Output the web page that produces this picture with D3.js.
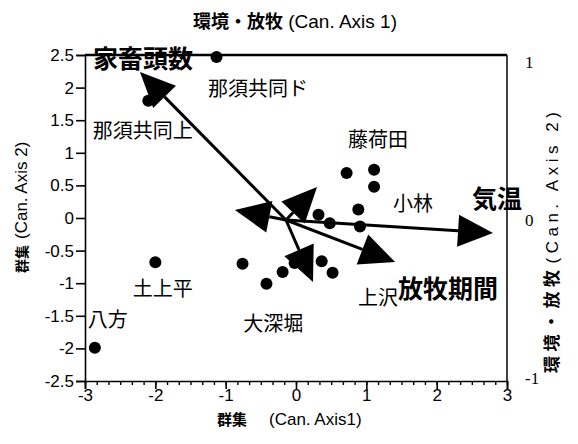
<!DOCTYPE html>
<html><head><meta charset="utf-8">
<script src="https://cdn.jsdelivr.net/npm/d3@7"></script>
<style>
body{margin:0;background:#fff;}
svg text{fill:#000;}
</style></head><body>
<svg id="chart" width="578" height="444"></svg>
<script>
// Site scores on the community canonical axes (群集 Can. Axis 1 / 2)
const siteX = [-1.13, -2.10, -2.86, -2.00, -0.76, -0.42, -0.19, -0.02, 0.365, 0.52, 0.32, 0.48, 0.91, 0.886, 0.72, 1.11, 1.11];
const siteY = [2.47, 1.80, -1.99, -0.68, -0.70, -1.01, -0.83, -0.69, -0.665, -0.84, 0.05, -0.08, -0.13, 0.13, 0.69, 0.74, 0.48];

// Site names and the anchor (left edge, baseline) of each name, in site units
const siteNames = ["那須共同ド", "那須共同上", "藤荷田", "小林", "上沢", "大深堀", "土上平", "八方"];
const siteNameX = [-1.25, -2.89, 0.74, 1.38, 0.88, -0.75, -2.32, -2.96];
const siteNameY = [1.87, 1.23, 1.09, 0.10, -1.33, -1.73, -1.19, -1.67];

// Environment / grazing vectors on the 環境・放牧 axes (-1..1)
const envNames = ["家畜頭数", "気温", "放牧期間"];
const envX = [-0.692, 0.981, 0.517, -0.242, 0.147, 0.128];
const envY = [0.937, -0.082, -0.266, 0.063, 0.209, -0.392];
const envLabelX = [-0.915, 0.882, 0.531];
const envLabelY = [0.962, 0.076, -0.494];

// Tick values
const xTicks = [-3, -2, -1, 0, 1, 2, 3];
const yTicks = [-2.5, -2, -1.5, -1, -0.5, 0, 0.5, 1, 1.5, 2, 2.5];
const envTicks = [-1, 0, 1];

const svg = d3.select("#chart");
const sans = "'Liberation Sans', Arial, sans-serif";
const jp = "'Noto Sans CJK JP', sans-serif";

const x = d3.scaleLinear().domain([-3, 3]).range([85, 507]);
const y = d3.scaleLinear().domain([-2.5, 2.5]).range([381, 55]);
const ex = d3.scaleLinear().domain([-1, 1]).range([75, 497]);
const ey = d3.scaleLinear().domain([-1, 1]).range([378, 62]);

// frame: heavy top edge, plain right edge
svg.append("line").attr("x1", x(-3)).attr("x2", x(3)).attr("y1", y(2.5)).attr("y2", y(2.5))
  .attr("stroke", "#000").attr("stroke-width", 2.5);
svg.append("line").attr("x1", x(3)).attr("x2", x(3)).attr("y1", y(2.5)).attr("y2", y(-2.5))
  .attr("stroke", "#000").attr("stroke-width", 1.5);

// left axis
const gy = svg.append("g").attr("transform", `translate(${x(-3)},0)`)
  .call(d3.axisLeft(y).tickValues(yTicks).tickSize(9).tickPadding(2).tickFormat(d => String(d)));
gy.selectAll("text").attr("font-family", sans).attr("font-size", 17);
gy.selectAll("line,path").attr("stroke", "#000").attr("stroke-width", 1.6);

// bottom axis, minor ticks then major
const minor = d3.range(-3, 3.0001, 1 / 6);
const gxm = svg.append("g").attr("transform", `translate(0,${y(-2.5)})`)
  .call(d3.axisBottom(x).tickValues(minor).tickSize(4).tickFormat(""));
gxm.select(".domain").remove();
gxm.selectAll("line").attr("stroke", "#000").attr("stroke-width", 1.4);
const gx = svg.append("g").attr("transform", `translate(0,${y(-2.5)})`)
  .call(d3.axisBottom(x).tickValues(xTicks).tickSize(8).tickPadding(0).tickFormat(d => String(d)));
gx.selectAll("text").attr("font-family", sans).attr("font-size", 17);
gx.selectAll("line,path").attr("stroke", "#000").attr("stroke-width", 1.6);

// right-hand labels of the environment scale
const gr = svg.append("g").attr("transform", "translate(524,0)")
  .call(d3.axisRight(ey).tickValues(envTicks).tickSize(0).tickPadding(1).tickFormat(d => String(d)));
gr.select(".domain").remove();
gr.selectAll("text").attr("font-family", "'Liberation Serif', serif").attr("font-size", 17);

// site points
svg.append("g").selectAll("circle").data(siteX).join("circle")
  .attr("cx", (d, i) => x(d)).attr("cy", (d, i) => y(siteY[i])).attr("r", 6).attr("fill", "#000");

// vectors: shaft to the base of the head, then a filled head
const ox = ex(0), oy = ey(0);
const HL = 35, HW = 16;
const ag = svg.append("g");
envX.forEach((vx, i) => {
  const tx = ex(vx), ty = ey(envY[i]);
  const dx = tx - ox, dy = ty - oy, len = Math.hypot(dx, dy);
  const ux = dx / len, uy = dy / len;
  const bx = tx - ux * HL, by = ty - uy * HL;
  ag.append("line").attr("x1", ox).attr("y1", oy).attr("x2", bx).attr("y2", by)
    .attr("stroke", "#000").attr("stroke-width", 3);
  ag.append("path")
    .attr("d", d3.line()([[tx, ty], [bx - uy * HW, by + ux * HW], [bx + uy * HW, by - ux * HW]]) + "Z")
    .attr("fill", "#000");
});

// site names
svg.append("g").selectAll("text").data(siteNames).join("text")
  .attr("x", (d, i) => x(siteNameX[i])).attr("y", (d, i) => y(siteNameY[i]))
  .attr("font-family", jp).attr("font-size", 20).text(d => d);

// vector names
svg.append("g").selectAll("text").data(envNames).join("text")
  .attr("x", (d, i) => ex(envLabelX[i])).attr("y", (d, i) => ey(envLabelY[i]))
  .attr("font-family", jp).attr("font-weight", 700).attr("font-size", 25).text(d => d);

// axis titles
const titleTop = svg.append("text").attr("x", 295).attr("y", 28).attr("text-anchor", "middle")
  .attr("font-family", sans).attr("font-size", 19);
titleTop.append("tspan").attr("font-family", jp).attr("font-weight", 700).attr("font-size", 18).text("環境・放牧");
titleTop.append("tspan").text(" (Can. Axis 1)");

const titleBottom = svg.append("text").attr("x", 217).attr("y", 425)
  .attr("font-family", sans).attr("font-size", 17);
titleBottom.append("tspan").attr("font-family", jp).attr("font-weight", 700).attr("font-size", 15).text("群集");
titleBottom.append("tspan").attr("dx", 22).text("(Can. Axis1)");

const titleLeft = svg.append("text").attr("transform", "translate(27,273) rotate(-90)")
  .attr("font-family", sans).attr("font-size", 17);
titleLeft.append("tspan").attr("font-family", jp).attr("font-weight", 700).attr("font-size", 14).text("群集");
titleLeft.append("tspan").attr("dx", 6).text("(Can. Axis 2)");

const titleRight = svg.append("text").attr("transform", "translate(558,373) rotate(-90)")
  .attr("font-family", sans).attr("font-size", 17).attr("letter-spacing", 4.5);
titleRight.append("tspan").attr("font-family", jp).attr("font-weight", 700).text("環境・放牧");
titleRight.append("tspan").attr("dx", 2).text("(Can. Axis 2)");
</script>
</body></html>
